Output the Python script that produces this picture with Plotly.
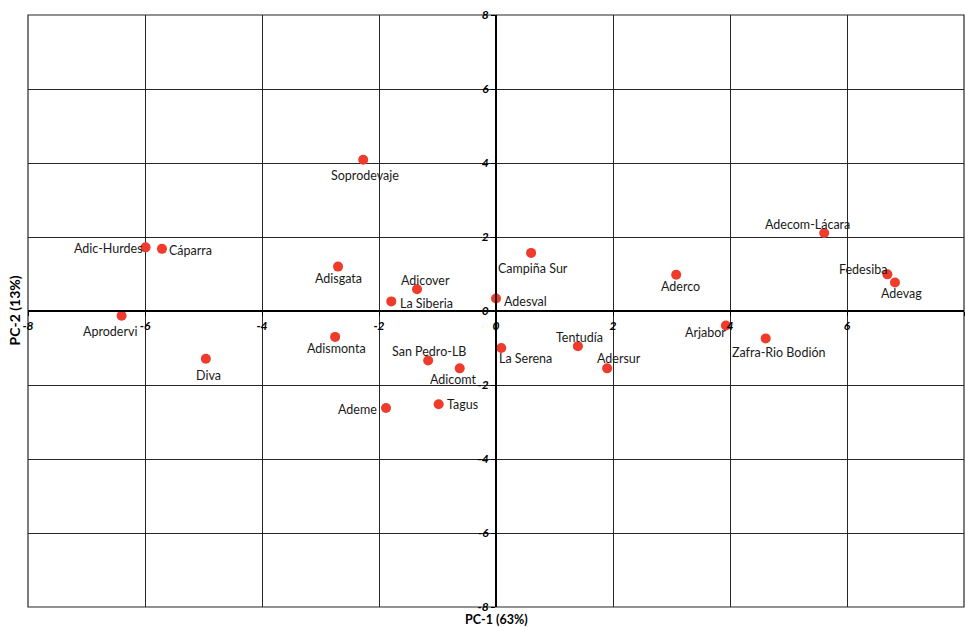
import plotly.graph_objects as go

names = ["Soprodevaje", "Adic-Hurdes", "Cáparra", "Adisgata", "Adicover", "La Siberia",
         "Adesval", "Campiña Sur", "Aderco", "Adecom-Lácara", "Fedesiba", "Adevag",
         "Aprodervi", "Diva", "Adismonta", "San Pedro-LB", "Adicomt", "Ademe", "Tagus",
         "La Serena", "Tentudía", "Adersur", "Arjabor", "Zafra-Rio Bodión"]
pc1 = [-2.27, -5.99, -5.71, -2.70, -1.35, -1.79,
       0.00, 0.60, 3.08, 5.61, 6.69, 6.82,
       -6.40, -4.96, -2.75, -1.16, -0.62, -1.88, -0.98,
       0.09, 1.40, 1.90, 3.93, 4.61]
pc2 = [4.09, 1.72, 1.68, 1.20, 0.59, 0.26,
       0.34, 1.57, 0.98, 2.11, 0.99, 0.77,
       -0.13, -1.29, -0.70, -1.34, -1.55, -2.62, -2.52,
       -1.00, -0.95, -1.55, -0.39, -0.74]
tick_vals = [-8, -6, -4, -2, 0, 2, 4, 6, 8]
tick_text = ["-8", "-6", "-4", "-2", "0", "2", "4", "6", "8"]

# label offsets in pixels (dx right, dy down) relative to each point
label_dx = [1.5, -37, 28.8, 0.7, 8.4, 34.8,
            29.2, 2.2, 4.2, -16.8, -24.6, 6.3,
            -11.4, 3, 1.3, 1, -6.8, -28.3, 24.1,
            24.3, 1.5, 11.8, -20.8, 12.6]
label_dy = [15.7, 1.3, 2, 12.3, -8.7, 2.3,
            3.3, 15.7, 11.4, -8.3, -4.7, 11,
            16, 17, 11.4, -9.3, 11, 1.7, 0.6,
            10.3, -8.4, -9.7, 7, 13.7]

fig = go.Figure()
fig.add_trace(go.Scatter(
    x=pc1, y=pc2, mode="markers",
    marker=dict(color="#EE3B2B", size=10, line=dict(width=0)),
    hoverinfo="text", text=names, showlegend=False,
))

label_font = dict(family="Lato, Open Sans, sans-serif", size=12.5, color="#1a1a1a")
for n, x, y, dx, dy in zip(names, pc1, pc2, label_dx, label_dy):
    fig.add_annotation(x=x, y=y, xref="x", yref="y", text=n, showarrow=False,
                       xshift=dx, yshift=-dy, font=label_font)

tick_font = dict(family="Lato, sans-serif", size=12, color="#000", weight="bold", style="italic")
axis_common = dict(
    range=[-8, 8], tickvals=tick_vals, ticktext=tick_text,
    showgrid=True, gridcolor="#262626", gridwidth=1.1,
    zeroline=False, showline=True, linecolor="#000", linewidth=2,
    ticks="outside", ticklen=4, tickwidth=1, tickcolor="#000",
    tickfont=tick_font, anchor="free", position=0.5,
    fixedrange=True, automargin=False,
)

fig.update_layout(
    width=965, height=627,
    margin=dict(l=28, r=1, t=15, b=20, autoexpand=False),
    paper_bgcolor="white", plot_bgcolor="white",
    xaxis=axis_common,
    yaxis=axis_common,
    shapes=[dict(type="rect", xref="paper", yref="paper", x0=0, y0=0, x1=1, y1=1,
                 line=dict(color="#262626", width=1.2), layer="below")],
)
fig.add_annotation(x=0.5, y=0, xref="paper", yref="paper", text="<b>PC-1 (63%)</b>",
                   showarrow=False, yanchor="top", yshift=-3,
                   font=dict(family="Lato, sans-serif", size=12.5, color="#000"))
fig.add_annotation(x=0, y=0.5, xref="paper", yref="paper", text="<b>PC-2 (13%)</b>",
                   showarrow=False, xanchor="right", textangle=-90, xshift=-4,
                   font=dict(family="Lato, sans-serif", size=14, color="#000"))

fig.write_html("out.html", config={"displayModeBar": False},
               post_script="document.body.style.margin='0';document.body.style.overflow='hidden';")
